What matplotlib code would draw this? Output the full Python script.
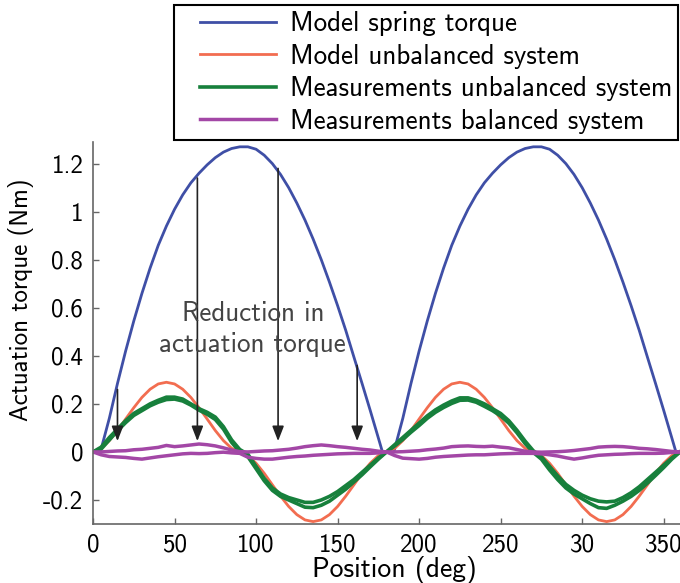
import numpy as np
import matplotlib
matplotlib.use("Agg")
import matplotlib.pyplot as plt
from matplotlib.patches import Rectangle

plt.rcParams['font.family'] = ['cmss10', 'DejaVu Sans']
plt.rcParams['axes.unicode_minus'] = False

# position grid (deg) for the model/measurement curves
pos = np.arange(0, 361, 5)

# model spring torque (Nm), read at its own positions
spring_pos = [0, 4.5, 10, 15, 20, 25, 30, 35, 40, 45, 50, 55, 60, 65, 70, 75, 80, 85,
              90, 95, 100, 105, 110, 115, 120, 125, 130, 135, 140, 145, 150, 155,
              160, 165, 170, 175, 177.5,
              184.5, 190, 195, 200, 205, 210, 215, 220, 225, 230, 235, 240, 245, 250,
              255, 260, 265, 270, 275, 280, 285, 290, 295, 300, 305, 310, 315, 320,
              325, 330, 335, 340, 345, 350, 355, 357.5, 360]
spring = [0, 0, 0.14, 0.285, 0.42, 0.545, 0.66, 0.765, 0.86, 0.94, 1.01, 1.07, 1.12,
          1.16, 1.195, 1.225, 1.248, 1.263, 1.27, 1.27, 1.26, 1.235, 1.20, 1.155, 1.10,
          1.036, 0.965, 0.886, 0.80, 0.707, 0.609, 0.506, 0.395, 0.285, 0.173, 0.058, 0,
          0, 0.14, 0.285, 0.42, 0.545, 0.66, 0.765, 0.86, 0.94, 1.01, 1.07, 1.12,
          1.16, 1.195, 1.225, 1.248, 1.263, 1.27, 1.27, 1.26, 1.235, 1.20, 1.155, 1.10,
          1.036, 0.965, 0.886, 0.80, 0.707, 0.609, 0.506, 0.395, 0.285, 0.173, 0.058, 0, 0]

# model unbalanced system (Nm), one lobe of 90 deg read at 5 deg steps
lobe = [0, 0.015, 0.047, 0.089, 0.137, 0.184, 0.227, 0.261, 0.283, 0.290,
        0.283, 0.261, 0.227, 0.184, 0.137, 0.089, 0.047, 0.015]
unbal = lobe + [-v for v in lobe] + lobe + [-v for v in lobe] + [0]

# measurements unbalanced system, two passes
meas_unbal_a = [0, 0.02, 0.06, 0.095, 0.13, 0.16, 0.18, 0.2, 0.215, 0.228,
                0.228, 0.22, 0.2, 0.18, 0.165, 0.145, 0.105, 0.05, 0.01, -0.01,
                -0.06, -0.11, -0.15, -0.175, -0.19, -0.2, -0.21, -0.21, -0.2, -0.185,
                -0.165, -0.14, -0.115, -0.085, -0.055, -0.025, 0,
                0.03, 0.06, 0.09, 0.12, 0.15, 0.175, 0.195, 0.212, 0.225,
                0.225, 0.215, 0.2, 0.18, 0.16, 0.13, 0.09, 0.045, 0.005, -0.02,
                -0.06, -0.1, -0.135, -0.16, -0.18, -0.195, -0.205, -0.208, -0.205, -0.19,
                -0.17, -0.145, -0.115, -0.085, -0.055, -0.025, 0]
meas_unbal_b = [0, 0.012, 0.05, 0.088, 0.122, 0.152, 0.172, 0.192, 0.207, 0.218,
                0.22, 0.212, 0.195, 0.174, 0.157, 0.135, 0.095, 0.04, 0.0, -0.02,
                -0.07, -0.12, -0.16, -0.185, -0.2, -0.215, -0.23, -0.232, -0.222, -0.205,
                -0.18, -0.155, -0.125, -0.095, -0.062, -0.03, 0,
                0.025, 0.052, 0.082, 0.11, 0.14, 0.165, 0.185, 0.202, 0.215,
                0.216, 0.207, 0.19, 0.172, 0.15, 0.12, 0.08, 0.035, -0.002, -0.03,
                -0.075, -0.115, -0.15, -0.175, -0.195, -0.215, -0.232, -0.235, -0.222, -0.205,
                -0.185, -0.16, -0.13, -0.098, -0.065, -0.03, 0]

# measurements balanced system, two passes
meas_bal_a = [0, 0.0, 0.002, 0.004, 0.005, 0.009, 0.011, 0.015, 0.019, 0.027,
              0.022, 0.025, 0.029, 0.033, 0.03, 0.025, 0.017, 0.008, 0.001, 0.0,
              0.002, 0.004, 0.005, 0.008, 0.011, 0.016, 0.022, 0.026, 0.029, 0.026,
              0.022, 0.019, 0.015, 0.011, 0.008, 0.003, 0.0,
              0.0, 0.001, 0.003, 0.005, 0.009, 0.012, 0.016, 0.022, 0.024,
              0.025, 0.023, 0.022, 0.024, 0.02, 0.017, 0.01, 0.003, 0.0, -0.001,
              0.0, 0.001, 0.003, 0.006, 0.01, 0.014, 0.02, 0.022, 0.023, 0.022,
              0.019, 0.015, 0.013, 0.01, 0.006, 0.002, 0.0]
meas_bal_b = [0, -0.012, -0.019, -0.021, -0.023, -0.027, -0.03, -0.025, -0.02, -0.016,
              -0.012, -0.008, -0.006, -0.007, -0.006, -0.003, -0.001, -0.004, -0.006, -0.022,
              -0.027, -0.03, -0.03, -0.026, -0.022, -0.019, -0.017, -0.014, -0.012, -0.01,
              -0.008, -0.007, -0.006, -0.006, -0.006, -0.004, 0.0,
              -0.015, -0.026, -0.028, -0.03, -0.027, -0.022, -0.019, -0.017, -0.015,
              -0.013, -0.012, -0.012, -0.01, -0.008, -0.007, -0.006, -0.006, -0.006, -0.008,
              -0.012, -0.017, -0.024, -0.03, -0.025, -0.019, -0.014, -0.012, -0.01, -0.009,
              -0.007, -0.006, -0.006, -0.006, -0.005, -0.002, 0.0]

# arrows: "Reduction in actuation torque"
arrow_x = [15, 64, 113.5, 162]
arrow_top = [0.26, 1.14, 1.18, 0.36]
arrow_tip = 0.045

xticks = [0, 50, 100, 150, 200, 250, 300, 350]
xticklabels = ['0', '50', '100', '150', '200', '250', '30', '350']
yticks = [-0.2, 0, 0.2, 0.4, 0.6, 0.8, 1.0, 1.2]
yticklabels = ['-0.2', '0', '0.2', '0.4', '0.6', '0.8', '1', '1.2']

c_blue = '#3f4fa6'
c_orange = '#f26d50'
c_green = '#17803c'
c_magenta = '#a347a6'

fig = plt.figure(figsize=(6.8, 5.83), dpi=100)
ax = fig.add_axes([0.1368, 0.1012, 0.8632, 0.6552])

l1, = ax.plot(spring_pos, spring, color=c_blue, lw=2.0)
l2, = ax.plot(pos, unbal, color=c_orange, lw=2.0)
l3, = ax.plot(pos, meas_unbal_a, color=c_green, lw=2.6)
ax.plot(pos, meas_unbal_b, color=c_green, lw=2.6)
l4, = ax.plot(pos, meas_bal_a, color=c_magenta, lw=2.5)
ax.plot(pos, meas_bal_b, color=c_magenta, lw=2.5)

for xa, ya in zip(arrow_x, arrow_top):
    ax.annotate('', xy=(xa, arrow_tip), xytext=(xa, ya),
                arrowprops=dict(arrowstyle='-|>,head_length=0.9,head_width=0.35',
                                color='#222222', lw=1.2, shrinkA=0, shrinkB=0))

ax.text(98, 0.51, 'Reduction in\nactuation torque', ha='center', va='center',
        fontsize=19.5, color='#444444', linespacing=1.3)

ax.set_xlim(0, 360)
ax.set_ylim(-0.3, 1.29)
ax.set_xticks(xticks)
ax.set_xticklabels(xticklabels)
ax.set_yticks(yticks)
ax.set_yticklabels(yticklabels)
ax.tick_params(direction='in', length=4, width=1, color='#666666',
               labelsize=18, pad=7)
for s in ['top', 'right']:
    ax.spines[s].set_visible(False)
for s in ['left', 'bottom']:
    ax.spines[s].set_color('#666666')
    ax.spines[s].set_linewidth(1.2)

ax.set_xlabel('Position (deg)', fontsize=20, labelpad=0)
ax.xaxis.set_label_coords(0.514, -0.085)
ax.set_ylabel('Actuation torque (Nm)', fontsize=18)
ax.yaxis.set_label_coords(-0.10, 0.586)

# legend box drawn separately so its padding matches the original
fig.patches.append(Rectangle((174 / 680, 1 - 140 / 583), (678 - 174) / 680, 135 / 583,
                             transform=fig.transFigure, fill=True, facecolor='white',
                             edgecolor='black', lw=1.5, zorder=9))
leg = fig.legend([l1, l2, l3, l4],
                 ['Model spring torque', 'Model unbalanced system',
                  'Measurements unbalanced system', 'Measurements balanced system'],
                 loc='upper left', bbox_to_anchor=(200 / 680, 1 - 11 / 583), fontsize=19.5,
                 frameon=False, handlelength=2.8, handletextpad=0.52,
                 labelspacing=0.28, borderpad=0, borderaxespad=0)
leg.set_zorder(10)

fig.savefig('out.png', dpi=100)
